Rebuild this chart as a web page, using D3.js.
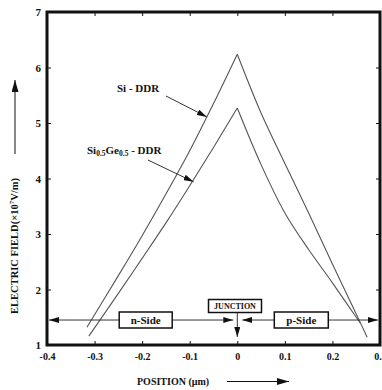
<!DOCTYPE html>
<html>
<head>
<meta charset="utf-8">
<script src="https://cdn.jsdelivr.net/npm/d3@7"></script>
<style>
  html, body { margin: 0; padding: 0; background: #fff; }
  svg { display: block; }
  text { font-family: "Liberation Serif", "Times New Roman", serif; font-weight: bold; fill: #111; }
</style>
</head>
<body>
<script>
// Electric field profiles across a double-drift region (DDR) diode
const siPosition   = [-0.316, -0.25, -0.2, -0.15, -0.1, -0.05, 0, 0.05, 0.1, 0.15, 0.2, 0.25, 0.273];
const siField      = [1.32, 2.25, 2.97, 3.72, 4.5, 5.35, 6.24, 5.18, 4.27, 3.38, 2.46, 1.56, 1.14];
const sigePosition = [-0.312, -0.25, -0.2, -0.15, -0.1, -0.05, 0, 0.05, 0.1, 0.15, 0.2, 0.258];
const sigeField    = [1.16, 1.93, 2.56, 3.2, 3.87, 4.56, 5.27, 4.25, 3.38, 2.72, 2.12, 1.4];

const xTicks = [-0.4, -0.3, -0.2, -0.1, 0, 0.1, 0.2, 0.3];
const xTickLabels = ["-0.4", "-0.3", "-0.2", "-0.1", "0", "0.1", "0.2", "0.3"];
const yTicks = [1, 2, 3, 4, 5, 6, 7];
const yTickLabels = ["1", "2", "3", "4", "5", "6", "7"];

// Region markers along the base of the plot
const regionLevel = 1.45;
const junctionAt = 0;

const W = 382, H = 390;
const svg = d3.select("body").append("svg").attr("width", W).attr("height", H);

const defs = svg.append("defs");
defs.append("marker").attr("id", "head")
  .attr("viewBox", "0 0 10 6").attr("refX", 10).attr("refY", 3)
  .attr("markerWidth", 10).attr("markerHeight", 6).attr("markerUnits", "userSpaceOnUse")
  .attr("orient", "auto")
  .append("path").attr("d", "M0,0 L10,3 L0,6 Z").attr("fill", "#111");
defs.append("marker").attr("id", "headBig")
  .attr("viewBox", "0 0 12 7").attr("refX", 12).attr("refY", 3.5)
  .attr("markerWidth", 12).attr("markerHeight", 7).attr("markerUnits", "userSpaceOnUse")
  .attr("orient", "auto")
  .append("path").attr("d", "M0,0 L12,3.5 L0,7 Z").attr("fill", "#111");

const x = d3.scaleLinear().domain([-0.4, 0.3]).range([47, 380]);
const y = d3.scaleLinear().domain([1, 7]).range([345, 12]);

// Axes with short inward ticks on all four sides
function styleAxis(g) {
  g.select(".domain").remove();
  g.selectAll(".tick line").attr("stroke", "#111").attr("stroke-width", 1);
}
svg.append("g").attr("transform", `translate(0,${y(1)})`)
  .call(d3.axisBottom(x).tickValues(xTicks).tickSizeInner(-4).tickSizeOuter(0).tickPadding(8)
    .tickFormat((d, i) => xTickLabels[i]))
  .call(styleAxis)
  .call(g => g.selectAll("text").attr("font-size", 10).attr("font-family", "Liberation Serif").attr("font-weight", "bold").attr("fill", "#111"));
svg.append("g").attr("transform", `translate(0,${y(7)})`)
  .call(d3.axisTop(x).tickValues(xTicks).tickSizeInner(-4).tickSizeOuter(0).tickFormat(""))
  .call(styleAxis);
svg.append("g").attr("transform", `translate(${x(-0.4)},0)`)
  .call(d3.axisLeft(y).tickValues(yTicks).tickSizeInner(-4).tickSizeOuter(0).tickPadding(6)
    .tickFormat((d, i) => yTickLabels[i]))
  .call(styleAxis)
  .call(g => g.selectAll("text").attr("font-size", 11).attr("font-family", "Liberation Serif").attr("font-weight", "bold").attr("fill", "#111"));
svg.append("g").attr("transform", `translate(${x(0.3)},0)`)
  .call(d3.axisRight(y).tickValues(yTicks).tickSizeInner(-4).tickSizeOuter(0).tickFormat(""))
  .call(styleAxis);

// Plot frame
svg.append("rect")
  .attr("x", x(-0.4)).attr("y", y(7))
  .attr("width", x(0.3) - x(-0.4)).attr("height", y(1) - y(7))
  .attr("fill", "none").attr("stroke", "#111").attr("stroke-width", 3);

// Field curves: each flank smoothed separately so the peak at the junction stays sharp
const line = d3.line().x(d => x(d[0])).y(d => y(d[1])).curve(d3.curveCatmullRom.alpha(0.5));
function drawProfile(pos, field) {
  const pts = pos.map((p, i) => [p, field[i]]);
  const peak = pos.indexOf(junctionAt);
  [pts.slice(0, peak + 1), pts.slice(peak)].forEach(seg => {
    svg.append("path").datum(seg).attr("d", line)
      .attr("fill", "none").attr("stroke", "#555").attr("stroke-width", 1.1)
      .attr("stroke-linejoin", "miter");
  });
}
drawProfile(siPosition, siField);
drawProfile(sigePosition, sigeField);

// Curve labels with pointer arrows
svg.append("text").attr("x", 117).attr("y", 92).attr("font-size", 11).text("Si - DDR");
svg.append("line")
  .attr("x1", 166).attr("y1", 96).attr("x2", x(-0.064)).attr("y2", y(5.11))
  .attr("stroke", "#333").attr("stroke-width", 1).attr("marker-end", "url(#head)");

const sige = svg.append("text").attr("x", 87).attr("y", 154).attr("font-size", 11);
sige.append("tspan").text("Si");
sige.append("tspan").attr("font-size", 7.5).attr("dy", 2).text("0.5");
sige.append("tspan").attr("dy", -2).text("Ge");
sige.append("tspan").attr("font-size", 7.5).attr("dy", 2).text("0.5");
sige.append("tspan").attr("dy", -2).text(" - DDR");
svg.append("line")
  .attr("x1", 148).attr("y1", 160).attr("x2", x(-0.092)).attr("y2", y(3.94))
  .attr("stroke", "#333").attr("stroke-width", 1).attr("marker-end", "url(#head)");

// n-side / junction / p-side markers
const yr = y(regionLevel);
const mk = svg.append("g");
mk.append("line").attr("x1", x(-0.335)).attr("y1", yr).attr("x2", x(-0.4) + 2).attr("y2", yr)
  .attr("stroke", "#333").attr("stroke-width", 1).attr("marker-end", "url(#head)");
mk.append("line").attr("x1", x(-0.335)).attr("y1", yr).attr("x2", x(junctionAt) - 4).attr("y2", yr)
  .attr("stroke", "#333").attr("stroke-width", 1).attr("marker-end", "url(#head)");
mk.append("line").attr("x1", x(0.2)).attr("y1", yr).attr("x2", x(junctionAt) + 5).attr("y2", yr)
  .attr("stroke", "#333").attr("stroke-width", 1).attr("marker-end", "url(#head)");
mk.append("line").attr("x1", x(0.2)).attr("y1", yr).attr("x2", x(0.3) - 2).attr("y2", yr)
  .attr("stroke", "#333").attr("stroke-width", 1).attr("marker-end", "url(#head)");

function labelBox(cx, cy, w, h, label, size) {
  mk.append("rect").attr("x", cx - w / 2).attr("y", cy - h / 2).attr("width", w).attr("height", h)
    .attr("fill", "#fff").attr("stroke", "#111").attr("stroke-width", 1.5);
  mk.append("text").attr("x", cx).attr("y", cy).attr("dy", "0.35em")
    .attr("text-anchor", "middle").attr("font-size", size).text(label);
}
labelBox(145.7, 320, 53, 16, "n-Side", 11);
labelBox(301.3, 320, 54, 16, "p-Side", 11);
labelBox(235, 306, 53, 13, "JUNCTION", 8);
mk.append("line").attr("x1", x(junctionAt)).attr("y1", 312.5).attr("x2", x(junctionAt)).attr("y2", 337)
  .attr("stroke", "#333").attr("stroke-width", 1).attr("marker-end", "url(#head)");

// Axis titles with direction arrows
const yt = svg.append("text").attr("transform", "translate(18,246) rotate(-90)")
  .attr("text-anchor", "middle").attr("font-size", 10.5);
yt.append("tspan").text("ELECTRIC FIELD(\u00d710");
yt.append("tspan").attr("font-size", 7).attr("dy", -4).text("7");
yt.append("tspan").attr("dy", 4).text("V/m)");
svg.append("line").attr("x1", 15).attr("y1", 154).attr("x2", 15).attr("y2", 80)
  .attr("stroke", "#111").attr("stroke-width", 1).attr("marker-end", "url(#headBig)");

svg.append("text").attr("x", 137).attr("y", 385).attr("font-size", 10).text("POSITION (\u00b5m)");
svg.append("line").attr("x1", 227).attr("y1", 381.5).attr("x2", 289).attr("y2", 381.5)
  .attr("stroke", "#111").attr("stroke-width", 1).attr("marker-end", "url(#headBig)");
</script>
</body>
</html>
